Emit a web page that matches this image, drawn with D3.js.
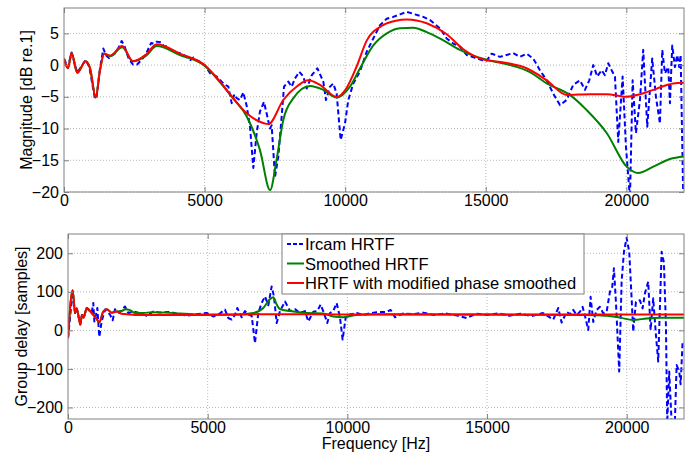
<!DOCTYPE html>
<html lang="en">
<head>
<meta charset="UTF-8" />
<title>HRTF magnitude and group delay</title>
<style>
  body { margin: 0; background: #fff; }
  svg { font-family: "Liberation Sans", Arial, sans-serif; }
  .grid line { stroke: #b8b8b8; stroke-dasharray: 1 2; }
  .axis text { font-size: 16px; fill: #000; }
  .axis path { display: none; }
  .axis line { stroke: #808080; }
</style>
</head>
<body>
<div class="chart"></div>
<script src="https://d3js.org/d3.v7.min.js"></script>
<script>
// ---- data ------------------------------------------------------------
const freqTicks = [0, 5000, 10000, 15000, 20000]
const magTicks = [-20, -15, -10, -5, 0, 5]
const gdTicks = [-200, -100, 0, 100, 200]
const legendLabels = ['Ircam HRTF', 'Smoothed HRTF', 'HRTF with modified phase smoothed']

// magnitude [dB re.1]
const ircamMagFreq = [0,140,270,470,770,900,1100,1160,1280,1400,
  1500,1600,1700,1800,1950,2050,2150,2300,2450,2600,
  2750,2900,3100,3200,3300,3450,3550,3700,3800,4000,
  4200,4350,4500,4600,4700,4850,5000,5200,5430,5670,
  5845,5963,6060,6141,6259,6378,6500,6615,6733,6852,
  6970,7112,7231,7326,7385,7504,7623,7741,7824,7978,
  8097,8215,8370,8511,8630,8808,9009,9222,9317,9459,
  9578,9697,9839,9993,10111,10289,10526,10765,11000,11237,
  11475,11712,11949,12187,12482,12778,13016,13371,13609,13846,
  14083,14321,14617,14854,15031,15209,15505,15743,15979,16216,
  16455,16690,16927,17166,17400,17638,17875,18112,18350,18528,
  18681,18823,18966,19120,19238,19357,19476,19594,19712,19867,
  19985,20128,20223,20341,20484,20600,20743,20920,21052,21194,
  21277,21372,21490,21550,21632,21728,21810,21881,21930,22024,
  22050]
const ircamMag = [1.0,-0.4,2.0,-1.2,0.8,-0.3,-5.3,-5.0,-0.5,2.6,
  1.5,1.1,1.5,1.8,2.8,3.8,3.0,1.0,0.1,0.1,
  0.8,1.6,3.5,3.4,3.7,3.6,3.0,2.9,2.4,2.0,
  1.8,1.3,0.8,1.2,0.8,0.5,0.0,-1.3,-1.8,-2.9,
  -3.4,-6.0,-4.6,-5.2,-5.5,-4.3,-6.5,-9.7,-16.2,-10.7,
  -7.3,-5.8,-8.1,-10.0,-9.5,-17.6,-14.4,-8.1,-3.4,-2.6,
  -3.4,-2.1,-1.05,-1.8,-3.7,-1.6,-0.5,-2.6,-5.5,-3.4,
  -2.9,-4.5,-11.8,-9.2,-5.5,-2.9,-1.0,2.1,4.2,6.3,
  7.3,7.6,8.0,8.4,8.0,7.6,7.1,5.8,4.2,3.4,
  2.9,1.6,1.15,0.8,0.7,1.8,1.3,1.6,1.9,1.3,
  1.8,1.0,-0.8,-2.4,-4.5,-6.3,-5.5,-3.1,-2.4,-3.9,
  -2.4,0.0,-1.8,-0.8,-1.6,0.3,-0.8,-1.8,-12.1,-1.8,
  -12.8,-21,-2.4,-10.7,-5.5,2.4,-9.7,1.05,-5.0,-9.2,
  2.4,-1.3,-0.3,-6.0,3.1,-0.3,1.6,-0.3,1.6,-21,
  -21]

const smoothMagFreq = [0,140,270,470,770,925,1130,1280,1430,1640,
  2070,2450,2900,3300,4120,5000,5550,6020,6500,
  6970,7330,7560,7800,8160,8750,9220,9700,10170,10530,
  11000,11480,11950,12420,12900,13490,14080,14680,15270,15860,
  16570,17170,17990,18590,19300,20010,20420,20960,21550,22050]
const smoothMag = [1.0,-0.5,1.9,-1.2,0.6,-0.5,-5.1,-0.8,1.8,1.4,
  2.8,0.6,1.4,3.0,1.6,-0.1,-2.7,-5.3,-8.1,
  -13.4,-19.7,-14.9,-8.6,-5.2,-3.3,-3.9,-5.1,-3.4,-0.5,
  3.1,5.0,5.8,5.9,5.2,3.9,2.4,1.3,0.6,0.0,
  -1.1,-2.9,-4.7,-7.1,-10.7,-16.0,-17.0,-16.0,-14.8,-14.4]

const modMagFreq = [0,140,270,470,770,925,1130,1280,1430,1640,
  2070,2450,2900,3300,4120,5000,5550,6020,6500,6900,
  7270,7800,8300,8690,9100,9700,10050,10400,10770,11350,
  11800,12190,12900,13600,14200,14900,15740,16450,17170,17880,
  18700,19300,20000,20480,21080,21670,22050]
const modMag = [1.0,-0.5,1.9,-1.2,0.6,-0.5,-5.1,-0.8,1.8,1.5,
  3.0,0.6,1.6,3.3,1.8,0.0,-2.6,-5.2,-7.6,-8.8,
  -9.3,-5.5,-3.3,-2.4,-3.1,-5.0,-3.6,-0.3,3.9,6.3,
  7.0,7.2,6.6,4.9,2.5,0.9,0.35,-0.5,-2.4,-4.7,
  -4.6,-4.6,-5.0,-4.6,-3.7,-2.9,-2.8]

// group delay [samples]
const ircamGdFreq = [0,168,251,311,394,440,500,560,669,848,
  906,942,1002,1050,1120,1205,1324,1503,1599,1682,
  1837,2040,2159,2338,2577,2816,3054,3293,3651,3890,
  4248,4606,4964,5201,5440,5619,5738,5858,5977,6060,
  6217,6335,6454,6574,6693,6812,6932,7051,7170,7290,
  7373,7470,7588,7767,7946,8125,8304,8483,8602,8780,
  8923,9043,9162,9281,9377,9496,9616,9735,9830,9950,
  10093,10333,10570,10809,11048,11406,11550,11704,12002,12359,
  12717,13100,13500,13900,14270,14600,15000,15400,15800,16200,
  16600,17000,17370,17549,17669,17848,17967,18086,18205,18325,
  18420,18504,18622,18707,18802,18922,19041,19159,19280,19399,
  19481,19542,19613,19731,19817,19900,19996,20089,20175,20233,
  20329,20472,20569,20651,20769,20855,20948,21045,21127,21249,
  21331,21403,21450,21521,21607,21725,21786,21879,21929,22000,
  22050]
const ircamGd = [-20,100,45,57,30,15,40,33,58,45,
  71,23,41,58,-17,23,54,41,26,55,
  45,62,45,49,45,38,49,46,48,43,
  38,42,45,36,44,54,32,28,40,58,
  34,50,41,38,-33,45,71,88,65,114,
  88,19,50,75,50,55,45,50,23,48,
  50,67,45,19,45,50,71,34,-24,38,
  41,45,40,44,47,48,53,34,44,42,
  46,40,44,39,32,43,40,44,38,43,
  37,45,28,58,20,48,42,53,40,48,
  61,38,1,87,22,53,61,44,48,100,
  113,161,74,-107,126,204,240,204,83,-3,
  74,78,57,96,126,1,83,-12,-81,204,
  176,14,-240,-107,-240,-235,-90,-107,-140,-29,
  -30]

const smoothGdFreq = [0,168,251,311,394,440,500,560,669,848,
  1002,1120,1263,1385,1564,1743,1922,2050,2200,2400,
  2700,3000,3500,4000,4500,5000,6000,6632,6990,7230,
  7348,7470,7588,7946,8543,9137,9495,9853,10333,11000,
  15000,18500,19000,19300,19757,20233,20712,21188,22050]
const smoothGd = [-20,104,45,57,30,15,40,33,58,45,
  32,21,49,55,46,49,50,55,53,45,
  45,47,46,44,42,41,41,45,58,81,
  86,67,55,50,45,44,36,34,40,42,
  41,40,39,38,33,27,31,33,33]

const modGdFreq = [0,168,251,311,394,440,500,560,669,848,
  1002,1120,1263,1385,1564,1743,1922,2101,2400,3000,
  5000,7400,10000,15000,20000,22050]
const modGd = [-20,104,45,57,30,15,40,33,58,45,
  32,21,49,55,46,49,43,42,40,40,
  40,42,41,41,41,41]

// ---- drawing ----------------------------------------------------------
const width = 692
const height = 455

const svg = d3.select('.chart')
  .append('svg')
  .attr('width', width)
  .attr('height', height)

const styles = [
  { color: '#0000ff', dash: '5,3', curve: d3.curveLinear },
  { color: '#008000', dash: null, curve: d3.curveMonotoneX },
  { color: '#ff0000', dash: null, curve: d3.curveMonotoneX }
]

const drawPanel = (p) => {
  const x = d3.scaleLinear().domain([0, 22050]).range([p.left, p.right])
  const y = d3.scaleLinear().domain(p.yDomain).range([p.bottom, p.top])
  const g = svg.append('g')

  // 格線
  const grid = g.append('g').attr('class', 'grid')
  grid.selectAll('.gx').data(freqTicks.slice(1)).join('line')
    .attr('x1', d => x(d)).attr('x2', d => x(d))
    .attr('y1', p.top).attr('y2', p.bottom)
  grid.selectAll('.gy').data(p.yTicks).join('line')
    .attr('x1', p.left).attr('x2', p.right)
    .attr('y1', d => y(d)).attr('y2', d => y(d))

  // 資料線
  const clipId = 'clip-' + p.id
  svg.append('clipPath').attr('id', clipId)
    .append('rect')
    .attr('x', p.left).attr('y', p.top)
    .attr('width', p.right - p.left).attr('height', p.bottom - p.top)

  const lines = g.append('g').attr('clip-path', `url(#${clipId})`)
  p.series.forEach((s, i) => {
    const st = styles[i]
    const line = d3.line()
      .x(d => x(d[0]))
      .y(d => y(d[1]))
      .curve(st.curve)
    lines.append('path')
      .datum(d3.zip(s[0], s[1]))
      .attr('d', line)
      .attr('fill', 'none')
      .attr('stroke', st.color)
      .attr('stroke-width', 2)
      .attr('stroke-dasharray', st.dash)
      .attr('stroke-linejoin', 'round')
  })

  // 軸線 (tick 朝內)
  g.append('g').attr('class', 'axis')
    .attr('transform', `translate(0,${p.bottom})`)
    .call(d3.axisBottom(x).tickValues(freqTicks).tickSize(-5).tickPadding(3).tickFormat(d3.format('d')))
  g.append('g').attr('class', 'axis')
    .attr('transform', `translate(0,${p.top})`)
    .call(d3.axisTop(x).tickValues(freqTicks).tickSize(-5).tickFormat(''))
  g.append('g').attr('class', 'axis')
    .attr('transform', `translate(${p.left},0)`)
    .call(d3.axisLeft(y).tickValues(p.yTicks).tickSize(-5).tickPadding(5).tickFormat(d3.format('d')))
  g.append('g').attr('class', 'axis')
    .attr('transform', `translate(${p.right},0)`)
    .call(d3.axisRight(y).tickValues(p.yTicks).tickSize(-5).tickFormat(''))

  g.append('rect')
    .attr('x', p.left).attr('y', p.top)
    .attr('width', p.right - p.left).attr('height', p.bottom - p.top)
    .attr('fill', 'none')
    .attr('stroke', '#808080')

  g.append('text')
    .attr('transform', `translate(${p.labelX},${(p.top + p.bottom) / 2}) rotate(-90)`)
    .attr('text-anchor', 'middle')
    .attr('font-size', 16)
    .text(p.yLabel)

  return { x, y }
}

drawPanel({
  id: 'mag', left: 64, right: 684, top: 8, bottom: 192,
  yDomain: [-20, 9], yTicks: magTicks, labelX: 32,
  yLabel: 'Magnitude [dB re.1]',
  series: [[ircamMagFreq, ircamMag], [smoothMagFreq, smoothMag], [modMagFreq, modMag]]
})

drawPanel({
  id: 'gd', left: 68, right: 684, top: 234, bottom: 419,
  yDomain: [-230, 250], yTicks: gdTicks, labelX: 27,
  yLabel: 'Group delay [samples]',
  series: [[ircamGdFreq, ircamGd], [smoothGdFreq, smoothGd], [modGdFreq, modGd]]
})

svg.append('text')
  .attr('x', 376).attr('y', 449)
  .attr('text-anchor', 'middle')
  .attr('font-size', 16)
  .text('Frequency [Hz]')

// 圖例
const legend = svg.append('g').attr('transform', 'translate(282,234)')
legend.append('rect')
  .attr('width', 302).attr('height', 60)
  .attr('fill', '#fff')
  .attr('stroke', '#808080')

legendLabels.forEach((label, i) => {
  const row = legend.append('g').attr('transform', `translate(0,${10 + i * 19.5})`)
  row.append('line')
    .attr('x1', 5).attr('x2', 22)
    .attr('stroke', styles[i].color)
    .attr('stroke-width', 2)
    .attr('stroke-dasharray', i === 0 ? '4,2' : null)
  row.append('text')
    .attr('x', 23).attr('y', 6)
    .attr('font-size', 16.5)
    .text(label)
})
</script>
</body>
</html>
